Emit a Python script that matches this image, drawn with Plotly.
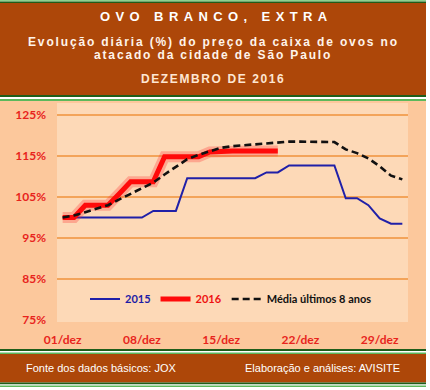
import plotly.graph_objects as go

days = list(range(1, 32))
serie_2015 = [100, 100, 100, 100, 100, 100, 100, 100, 101.6, 101.6, 101.6,
              109.6, 109.6, 109.6, 109.6, 109.6, 109.6, 109.6, 111.0, 111.0,
              112.7, 112.7, 112.7, 112.7, 112.7, 104.7, 104.7, 103.0, 99.8, 98.5, 98.5]
serie_2016 = [100, 100, 103, 103, 103, 105.8, 108.7, 108.7, 108.7, 114.8,
              114.8, 114.8, 114.8, 116.0, 116.2, 116.2, 116.2, 116.2, 116.2, 116.2] + [None] * 11
media_8anos = [100, 100.5, 101.3, 102.1, 103.0, 104.4, 105.8, 107.0, 108.5, 110.5,
               112.4, 114.2, 115.3, 116.2, 117.0, 117.4, 117.6, 117.9, 118.1, 118.3,
               118.5, 118.5, 118.5, 118.5, 118.4, 116.6, 115.7, 114.4, 112.5, 110.2, 109.3]
x_tickvals = [1, 8, 15, 22, 29]
x_ticktext = ["01/dez", "08/dez", "15/dez", "22/dez", "29/dez"]
y_tickvals = [75, 85, 95, 105, 115, 125]
y_ticktext = ["75%", "85%", "95%", "105%", "115%", "125%"]

W, H = 430, 390
L, R, T, B = 57, 22, 103, 70
PW, PH = W - L - R, H - T - B


def px(x):
    return (x - L) / PW


def py(y):
    return (H - B - y) / PH


def rect(x0, y0, x1, y1, color):
    return dict(type="rect", xref="paper", yref="paper", layer="below",
                x0=px(x0), x1=px(x1), y0=py(y1), y1=py(y0),
                fillcolor=color, line=dict(width=0))


BROWN = "#ad4709"
DKGREEN = "#1f5e1a"
LTGREEN = "#5cb85c"
OUTER = "#fcc89c"
INNER = "#fdd9b7"

shapes = [
    rect(0, 0, 426, 1.5, "#8fd18f"),
    rect(0, 1.5, 426, 3, DKGREEN),
    rect(0, 3, 426, 95, BROWN),
    rect(0, 95, 426, 97, DKGREEN),
    rect(0, 97, 426, 99, "#ffffff"),
    rect(0, 99, 426, 101, LTGREEN),
    rect(0, 101, 426, 349, OUTER),
    rect(L, T, L + PW, T + PH, INNER),
    rect(0, 349, 426, 351, DKGREEN),
    rect(0, 351, 426, 352.5, "#ffffff"),
    rect(0, 352.5, 426, 354, LTGREEN),
    rect(0, 354, 426, 382.5, BROWN),
    rect(0, 382.5, 426, 384.5, DKGREEN),
    rect(0, 384.5, 426, 385.5, "#ffffff"),
    rect(0, 385.5, 426, 387, LTGREEN),
]

fig = go.Figure()
fig.add_trace(go.Scatter(x=days, y=serie_2015, mode="lines",
                         name="<span style='color:#1c1ca6'>2015</span>",
                         line=dict(color="#2020a8", width=2)))
fig.add_trace(go.Scatter(x=days, y=serie_2016, mode="lines", showlegend=False,
                         hoverinfo="skip",
                         line=dict(color="rgba(255,40,40,0.28)", width=11)))
fig.add_trace(go.Scatter(x=days, y=serie_2016, mode="lines",
                         name="<span style='color:#ee1111'>2016</span>",
                         line=dict(color="#ff0a0a", width=5)))
fig.add_trace(go.Scatter(x=days, y=media_8anos, mode="lines",
                         name="Média últimos 8 anos",
                         line=dict(color="#111111", width=2.6, dash="7px,4px")))

title_font = "Arial, Liberation Sans, sans-serif"
annotations = [
    dict(text="<span style='letter-spacing:5.4px'>OVO BRANCO, EXTRA</span>",
         x=px(216), y=py(17), font=dict(size=13, color="#ffffff", family=title_font, weight=700)),
    dict(text="<span style='letter-spacing:1.85px'>Evolução diária (%) do preço da caixa de ovos no</span>",
         x=px(213), y=py(42), font=dict(size=12, color="#fff4ea", family=title_font, weight=700)),
    dict(text="<span style='letter-spacing:1.85px'>atacado da cidade de São Paulo</span>",
         x=px(213), y=py(55), font=dict(size=12, color="#fff4ea", family=title_font, weight=700)),
    dict(text="<span style='letter-spacing:1.6px'>DEZEMBRO DE 2016</span>",
         x=px(213), y=py(79), font=dict(size=12, color="#fde6d2", family=title_font, weight=700)),
    dict(text="Fonte dos dados básicos: JOX", x=px(24), y=py(368), xanchor="left",
         font=dict(size=11, color="#ffffff", family=title_font)),
    dict(text="Elaboração e análises: AVISITE", x=px(402), y=py(368), xanchor="right",
         font=dict(size=11, color="#ffffff", family=title_font)),
]
for a in annotations:
    a.update(xref="paper", yref="paper", showarrow=False)
    a.setdefault("xanchor", "center")
    a["yanchor"] = "middle"

tick_font = dict(family="Lato, Calibri, sans-serif", size=12, color="#e8241c", weight=700)

fig.update_layout(
    width=W, height=H,
    margin=dict(l=L, r=R, t=T, b=B, pad=0),
    paper_bgcolor="#ffffff",
    plot_bgcolor="rgba(0,0,0,0)",
    shapes=shapes,
    annotations=annotations,
    showlegend=True,
    legend=dict(orientation="h", x=px(85), y=py(299), xanchor="left", yanchor="middle",
                bgcolor="rgba(0,0,0,0)", borderwidth=0,
                font=dict(family="Lato, Calibri, sans-serif", size=11, color="#111111", weight=700),
                itemwidth=30, tracegroupgap=0),
    xaxis=dict(range=[0.5, 31.5], tickvals=x_tickvals, ticktext=x_ticktext,
               showgrid=False, zeroline=False, showline=True, linecolor=INNER, linewidth=2,
               ticks="", tickfont=tick_font, ticklabelstandoff=8, fixedrange=True, automargin=False),
    yaxis=dict(range=[75, 75 + PH / 4.1], tickvals=y_tickvals, ticktext=y_ticktext,
               showgrid=True, gridcolor="#f3a45a", gridwidth=1.5, zeroline=False,
               showline=False, ticks="", tickfont=tick_font, ticklabelstandoff=10,
               fixedrange=True, automargin=False),
    hovermode=False,
)

fig.write_html("out.html", config={"displayModeBar": False},
               post_script="document.body.style.margin='0';document.body.style.overflow='hidden';")
